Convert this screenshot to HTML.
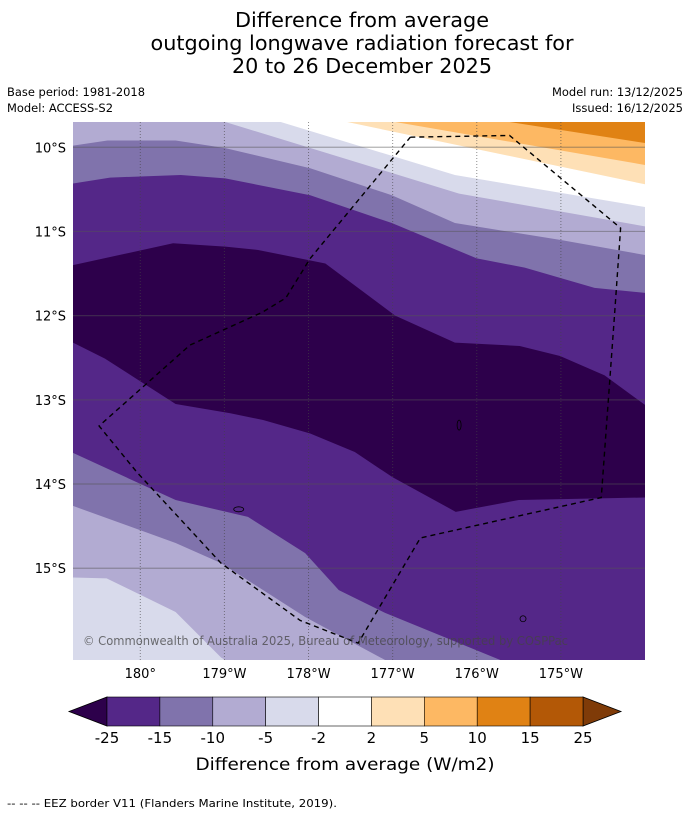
<!DOCTYPE html>
<html><head><meta charset="utf-8"><style>
body{margin:0;background:#fff;}
svg{display:block;font-family:"DejaVu Sans","Liberation Sans",sans-serif;}
</style></head><body>
<svg id="chart" width="690" height="816" viewBox="0 0 690 816" xmlns="http://www.w3.org/2000/svg">
<g font-size="20" text-anchor="middle" fill="#000">
<text x="362" y="27" textLength="254" lengthAdjust="spacingAndGlyphs">Difference from average</text>
<text x="362" y="50" textLength="423" lengthAdjust="spacingAndGlyphs">outgoing longwave radiation forecast for</text>
<text x="362" y="73" textLength="260" lengthAdjust="spacingAndGlyphs">20 to 26 December 2025</text>
</g>
<g font-size="11.5" fill="#000">
<text x="7" y="96" textLength="138" lengthAdjust="spacingAndGlyphs">Base period: 1981-2018</text>
<text x="7" y="112" textLength="106" lengthAdjust="spacingAndGlyphs">Model: ACCESS-S2</text>
<text x="683" y="96" text-anchor="end" textLength="131" lengthAdjust="spacingAndGlyphs">Model run: 13/12/2025</text>
<text x="683" y="112" text-anchor="end" textLength="111" lengthAdjust="spacingAndGlyphs">Issued: 16/12/2025</text>
</g>
<defs><clipPath id="mapclip"><rect x="73" y="122" width="572" height="538"/></clipPath></defs>
<g id="map" clip-path="url(#mapclip)"></g>
<g id="axes"></g>
<g id="cbar"></g>
<text x="345" y="770" font-size="17" text-anchor="middle" textLength="299" lengthAdjust="spacingAndGlyphs">Difference from average (W/m2)</text>
<text x="7" y="807" font-size="11" textLength="330" lengthAdjust="spacingAndGlyphs">--  --  -- EEZ border V11 (Flanders Marine Institute, 2019).</text>
</svg>
<script>
const lonMin=179.2, lonMax=186.0, latTop=9.70, latBot=16.09;
const lonTicks=[180,181,182,183,184,185];
const lonTickLabels=["180°","179°W","178°W","177°W","176°W","175°W"];
const latTicks=[10,11,12,13,14,15];
const latTickLabels=["10°S","11°S","12°S","13°S","14°S","15°S"];
const baseColor="#e08214";
const bandColors=["#fdb863","#fee0b6","#ffffff","#d8daeb","#b2abd2","#8073ac","#542788","#2d004b","#542788","#8073ac","#b2abd2","#d8daeb"];
const b1=[[184.39,9.70],[186.0,9.95]];
const b2=[[183.03,9.70],[186.0,10.21]];
const b3=[[182.46,9.70],[186.0,10.44]];
const b4=[[181.67,9.70],[183.74,10.33],[186.0,10.71]];
const b5=[[181.01,9.70],[183.79,10.55],[186.0,10.94]];
const b6=[[179.2,9.98],[179.61,9.92],[180.42,9.92],[181.01,10.01],[182.02,10.25],[182.99,10.57],[183.74,10.90],[184.99,11.10],[186.0,11.28]];
const b7=[[179.2,10.43],[179.64,10.36],[180.48,10.33],[181.01,10.37],[182.02,10.57],[182.99,10.90],[184.0,11.32],[184.57,11.43],[185.40,11.67],[186.0,11.73]];
const b8=[[179.2,11.40],[180.39,11.14],[181.01,11.18],[181.40,11.22],[182.20,11.38],[183.03,12.00],[183.74,12.32],[184.51,12.36],[184.99,12.48],[185.52,12.71],[186.0,13.06]];
const b9=[[179.2,12.32],[179.58,12.51],[180.42,13.05],[181.07,13.16],[181.46,13.24],[182.02,13.40],[182.55,13.62],[183.0,13.92],[183.75,14.33],[184.50,14.19],[186.0,14.16]];
const b10=[[179.2,13.63],[180.42,14.19],[181.28,14.39],[181.96,14.82],[182.36,15.26],[182.91,15.53],[184.28,16.09],[186.0,16.09]];
const b11=[[179.2,14.26],[180.42,14.70],[180.96,14.94],[181.96,15.58],[182.91,16.09],[186.0,16.09]];
const b12=[[179.2,15.11],[179.60,15.12],[180.42,15.52],[180.96,16.06],[181.01,16.09],[186.0,16.09]];
const boundaries=[b1,b2,b3,b4,b5,b6,b7,b8,b9,b10,b11,b12];
const eezLon=[183.21,184.39,185.71,185.64,185.48,183.33,182.59,181.90,180.96,179.96,179.51,180.59,181.45,181.73,182.02,183.21];
const eezLat=[9.88,9.86,10.96,11.96,14.16,14.64,15.89,15.62,14.94,13.86,13.31,12.35,11.96,11.79,11.32,9.88];
const cbLevels=["-25","-15","-10","-5","-2","2","5","10","15","25"];
const cbColors=["#542788","#8073ac","#b2abd2","#d8daeb","#ffffff","#fee0b6","#fdb863","#e08214","#b35806"];
const cbUnder="#2d004b", cbOver="#7f3b08";

const X0=73,X1=645,Y0=122,Y1=660;
const xs=lon=>X0+(lon-lonMin)/(lonMax-lonMin)*(X1-X0);
const ys=lat=>Y0+(lat-latTop)/(latBot-latTop)*(Y1-Y0);
const NS="http://www.w3.org/2000/svg";
function mk(tag,attrs,parent){const e=document.createElementNS(NS,tag);for(const k in attrs)e.setAttribute(k,attrs[k]);parent.appendChild(e);return e;}
const map=document.getElementById('map');
let bg=mk('rect',{x:X0,y:Y0,width:X1-X0,height:Y1-Y0,fill:baseColor},map);


boundaries.forEach((b,i)=>{
  const pts=b.map(p=>[xs(p[0]),ys(p[1])]);
  pts.push([X1+2,Y1+2],[X0-2,Y1+2]);
  pts.push([X0-2, b[0][0]<=lonMin+0.01 ? ys(b[0][1]) : Y0-2]);
  const pg=mk('polygon',{points:pts.map(p=>p.join(',')).join(' '),fill:bandColors[i]},map);
  
  
});
latTicks.forEach((lat,i)=>{
  const l=mk('line',{x1:X0,x2:X1,y1:ys(lat),y2:ys(lat),stroke:'#555',"stroke-opacity":0.45,"stroke-width":1.2},map);
  
  
});
lonTicks.forEach((lon,i)=>{
  const l=mk('line',{x1:xs(lon),x2:xs(lon),y1:Y0,y2:Y1,stroke:'#444',"stroke-opacity":0.6,"stroke-width":1,"stroke-dasharray":"1,2"},map);
  
  
});
[[183.79,13.30,2,5],[181.17,14.30,5,2.5],[184.55,15.60,3,3]].forEach(p=>{
  const e=mk('ellipse',{cx:xs(p[0]),cy:ys(p[1]),rx:p[2],ry:p[3],fill:'none',stroke:'#000',"stroke-width":0.8},map);
  
  
});
const eez=mk('polyline',{points:eezLon.map((lon,i)=>xs(lon)+','+ys(eezLat[i])).join(' '),fill:'none',stroke:'#000',"stroke-width":1.4,"stroke-dasharray":"5,4"},map);


const cp=mk('text',{x:83,y:645,"font-size":12,fill:'#444',"fill-opacity":0.75,textLength:485,lengthAdjust:'spacingAndGlyphs'},map);
cp.textContent="© Commonwealth of Australia 2025, Bureau of Meteorology, supported by COSPPac";


const axes=document.getElementById('axes');
latTicks.forEach((lat,i)=>{
  const t=mk('text',{x:66,y:ys(lat)+5,"font-size":13,"text-anchor":"end"},axes);
  t.textContent=latTickLabels[i];
  
  
});
lonTicks.forEach((lon,i)=>{
  const t=mk('text',{x:xs(lon),y:678,"font-size":13,"text-anchor":"middle"},axes);
  t.textContent=lonTickLabels[i];
  
  
});
const cb=document.getElementById('cbar');
const cx0=107,cx1=583,cy0=697,cy1=726,cw=(cx1-cx0)/cbColors.length;
const tl=mk('polygon',{points:`${cx0},${cy0} ${cx0},${cy1} 69,${(cy0+cy1)/2}`,fill:cbUnder,stroke:'#000',"stroke-width":0.8},cb);


const tr=mk('polygon',{points:`${cx1},${cy0} ${cx1},${cy1} 621,${(cy0+cy1)/2}`,fill:cbOver,stroke:'#000',"stroke-width":0.8},cb);


cbColors.forEach((c,i)=>{
  const r=mk('rect',{x:cx0+i*cw,y:cy0,width:cw,height:cy1-cy0,fill:c,stroke:'#000',"stroke-width":0.6},cb);
  
  
});
cbLevels.forEach((lv,i)=>{
  const t=mk('text',{x:cx0+i*cw,y:743,"font-size":15,"text-anchor":"middle"},cb);
  t.textContent=lv;
  
  
});
</script>
</body></html>
